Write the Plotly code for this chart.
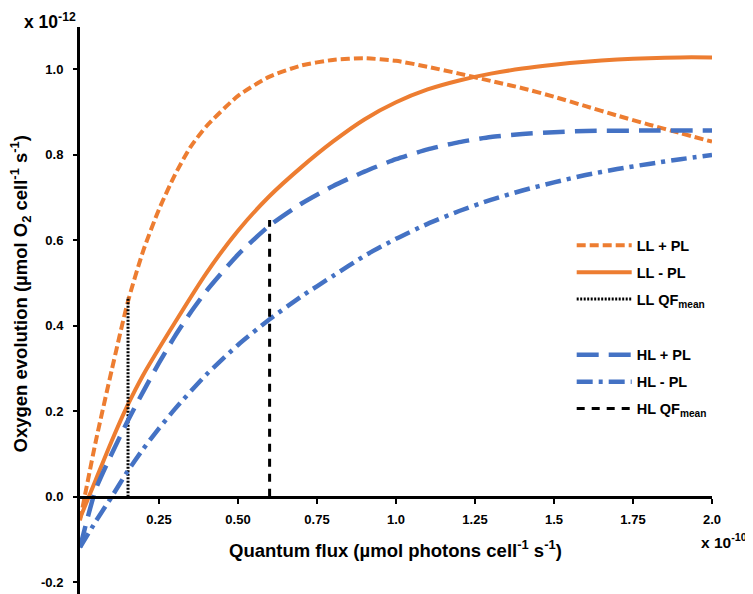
import plotly.graph_objects as go

# ---- data (x in units of 1e-10, y in units of 1e-12) ----
ll_pl_x = [0, 0.05, 0.1, 0.15, 0.2, 0.25, 0.3, 0.35, 0.4, 0.5, 0.6, 0.7, 0.8, 0.9, 1.0, 1.1, 1.2, 1.3, 1.4, 1.5, 1.6, 1.7, 1.8, 1.9, 2.0]
ll_pl_y = [-0.055, 0.13, 0.295, 0.452, 0.575, 0.672, 0.752, 0.818, 0.866, 0.937, 0.982, 1.008, 1.021, 1.025, 1.019, 1.005, 0.989, 0.972, 0.955, 0.935, 0.913, 0.891, 0.870, 0.850, 0.830]

ll_mpl_x = [0, 0.05, 0.1, 0.15, 0.2, 0.3, 0.4, 0.5, 0.6, 0.7, 0.8, 0.9, 1.0, 1.1, 1.2, 1.3, 1.4, 1.5, 1.6, 1.7, 1.8, 1.9, 2.0]
ll_mpl_y = [-0.05, 0.04, 0.13, 0.213, 0.285, 0.407, 0.523, 0.622, 0.703, 0.770, 0.830, 0.882, 0.922, 0.952, 0.973, 0.989, 1.001, 1.010, 1.017, 1.022, 1.025, 1.027, 1.027]

hl_pl_x = [0, 0.05, 0.1, 0.15, 0.2, 0.25, 0.3, 0.35, 0.4, 0.5, 0.6, 0.7, 0.8, 0.9, 1.0, 1.1, 1.2, 1.3, 1.4, 1.5, 1.6, 1.8, 2.0]
hl_pl_y = [-0.118, 0.018, 0.10, 0.176, 0.246, 0.313, 0.375, 0.431, 0.481, 0.566, 0.634, 0.685, 0.726, 0.760, 0.789, 0.812, 0.829, 0.841, 0.848, 0.852, 0.855, 0.856, 0.856]

hl_mpl_x = [0, 0.05, 0.1, 0.15, 0.2, 0.25, 0.3, 0.4, 0.5, 0.6, 0.7, 0.8, 0.9, 1.0, 1.1, 1.2, 1.3, 1.4, 1.5, 1.6, 1.7, 1.8, 1.9, 2.0]
hl_mpl_y = [-0.118, -0.057, 0.0, 0.059, 0.112, 0.160, 0.205, 0.286, 0.355, 0.415, 0.468, 0.516, 0.563, 0.603, 0.638, 0.668, 0.694, 0.716, 0.735, 0.752, 0.766, 0.778, 0.789, 0.799]

ll_qf_x = [0.152, 0.152]
ll_qf_y = [0.0, 0.467]
hl_qf_x = [0.6, 0.6]
hl_qf_y = [0.0, 0.647]

x_tickvals = [0.25, 0.5, 0.75, 1.0, 1.25, 1.5, 1.75, 2.0]
x_ticktext = ["0.25", "0.50", "0.75", "1.0", "1.25", "1.5", "1.75", "2.0"]
y_tickvals = [-0.2, 0.0, 0.2, 0.4, 0.6, 0.8, 1.0]
y_ticktext = ["-0.2", "0.0", "0.2", "0.4", "0.6", "0.8", "1.0"]

ORANGE = "#ED7D31"
BLUE = "#4472C4"
FONT = "Arial, Liberation Sans, sans-serif"

y_range = [-0.227, 1.098]
x_range = [0, 2.0]

fig = go.Figure()

def add(x, y, name, color, width, dash, legend, group, spline=True):
    fig.add_trace(go.Scatter(
        x=x, y=y, mode="lines", name=name,
        line=dict(color=color, width=width, dash=dash,
                  shape="spline" if spline else "linear", smoothing=0.6),
        legend=legend, legendgroup=group, hoverinfo="skip"))

add(ll_pl_x, ll_pl_y, "<b>LL + PL</b>", ORANGE, 4, "9px,4px", "legend", "a")
add(ll_mpl_x, ll_mpl_y, "<b>LL - PL</b>", ORANGE, 4, "solid", "legend", "b")
add(ll_qf_x, ll_qf_y, "<b>LL QF<sub>mean</sub></b>", "black", 3, "2px,1.5px", "legend", "c", False)
add(hl_pl_x, hl_pl_y, "<b>HL + PL</b>", BLUE, 4.5, "22px,10px", "legend2", "d")
add(hl_mpl_x, hl_mpl_y, "<b>HL - PL</b>", BLUE, 4.5, "16px,6px,4px,6px", "legend2", "e")
add(hl_qf_x, hl_qf_y, "<b>HL QF<sub>mean</sub></b>", "black", 3, "8px,7px", "legend2", "f", False)

zero_pos = (0 - y_range[0]) / (y_range[1] - y_range[0])

legend_common = dict(
    font=dict(family=FONT, size=14.5, color="black"),
    bgcolor="rgba(0,0,0,0)", borderwidth=0,
    xanchor="left", yanchor="top", itemwidth=55,
    tracegroupgap=5,
)

fig.update_layout(
    width=745, height=586,
    margin=dict(l=72, r=41, t=19, b=0),
    paper_bgcolor="white", plot_bgcolor="white",
    font=dict(family=FONT, color="black"),
    showlegend=True,
    legend=dict(x=0.778, y=0.643, **legend_common),
    legend2=dict(x=0.778, y=0.450, **legend_common),
    xaxis=dict(
        range=x_range, anchor="free", position=zero_pos,
        showline=True, linecolor="black", linewidth=3,
        showgrid=False, zeroline=False,
        ticks="outside", ticklen=5, tickwidth=2, tickcolor="black",
        tickvals=x_tickvals, ticktext=x_ticktext,
        tickfont=dict(family=FONT, size=13, color="black", weight="bold"),
        ticklabelstandoff=5,
    ),
    yaxis=dict(
        range=y_range,
        showline=True, linecolor="black", linewidth=3,
        showgrid=False, zeroline=False,
        ticks="outside", ticklen=4, tickwidth=2, tickcolor="black",
        tickvals=y_tickvals, ticktext=y_ticktext,
        tickfont=dict(family=FONT, size=13, color="black", weight="bold"),
        ticklabelstandoff=7,
    ),
    annotations=[
        dict(text="<b>Oxygen evolution (µmol O<sub>2</sub> cell<sup>-1</sup> s<sup>-1</sup>)</b>",
             xref="paper", yref="paper", x=-0.0934, y=0.53, textangle=-90,
             showarrow=False, xanchor="center", yanchor="middle",
             font=dict(family=FONT, size=18.5, color="black")),
        dict(text="<b>Quantum flux (µmol photons cell<sup>-1</sup> s<sup>-1</sup>)</b>",
             xref="paper", yref="paper", x=0.499, y=0.079,
             showarrow=False, xanchor="center", yanchor="middle",
             font=dict(family=FONT, size=18.5, color="black")),
        dict(text="<b>x 10<sup>-10</sup></b>",
             xref="paper", yref="paper", x=0.979, y=0.0935,
             showarrow=False, xanchor="left", yanchor="middle",
             font=dict(family=FONT, size=15.5, color="black")),
        dict(text="<b>x 10<sup>-12</sup></b>",
             xref="paper", yref="paper", x=-0.0918, y=1.0335,
             showarrow=False, xanchor="left", yanchor="top",
             font=dict(family=FONT, size=17.5, color="black")),
    ],
)

fig.write_html("out.html")
